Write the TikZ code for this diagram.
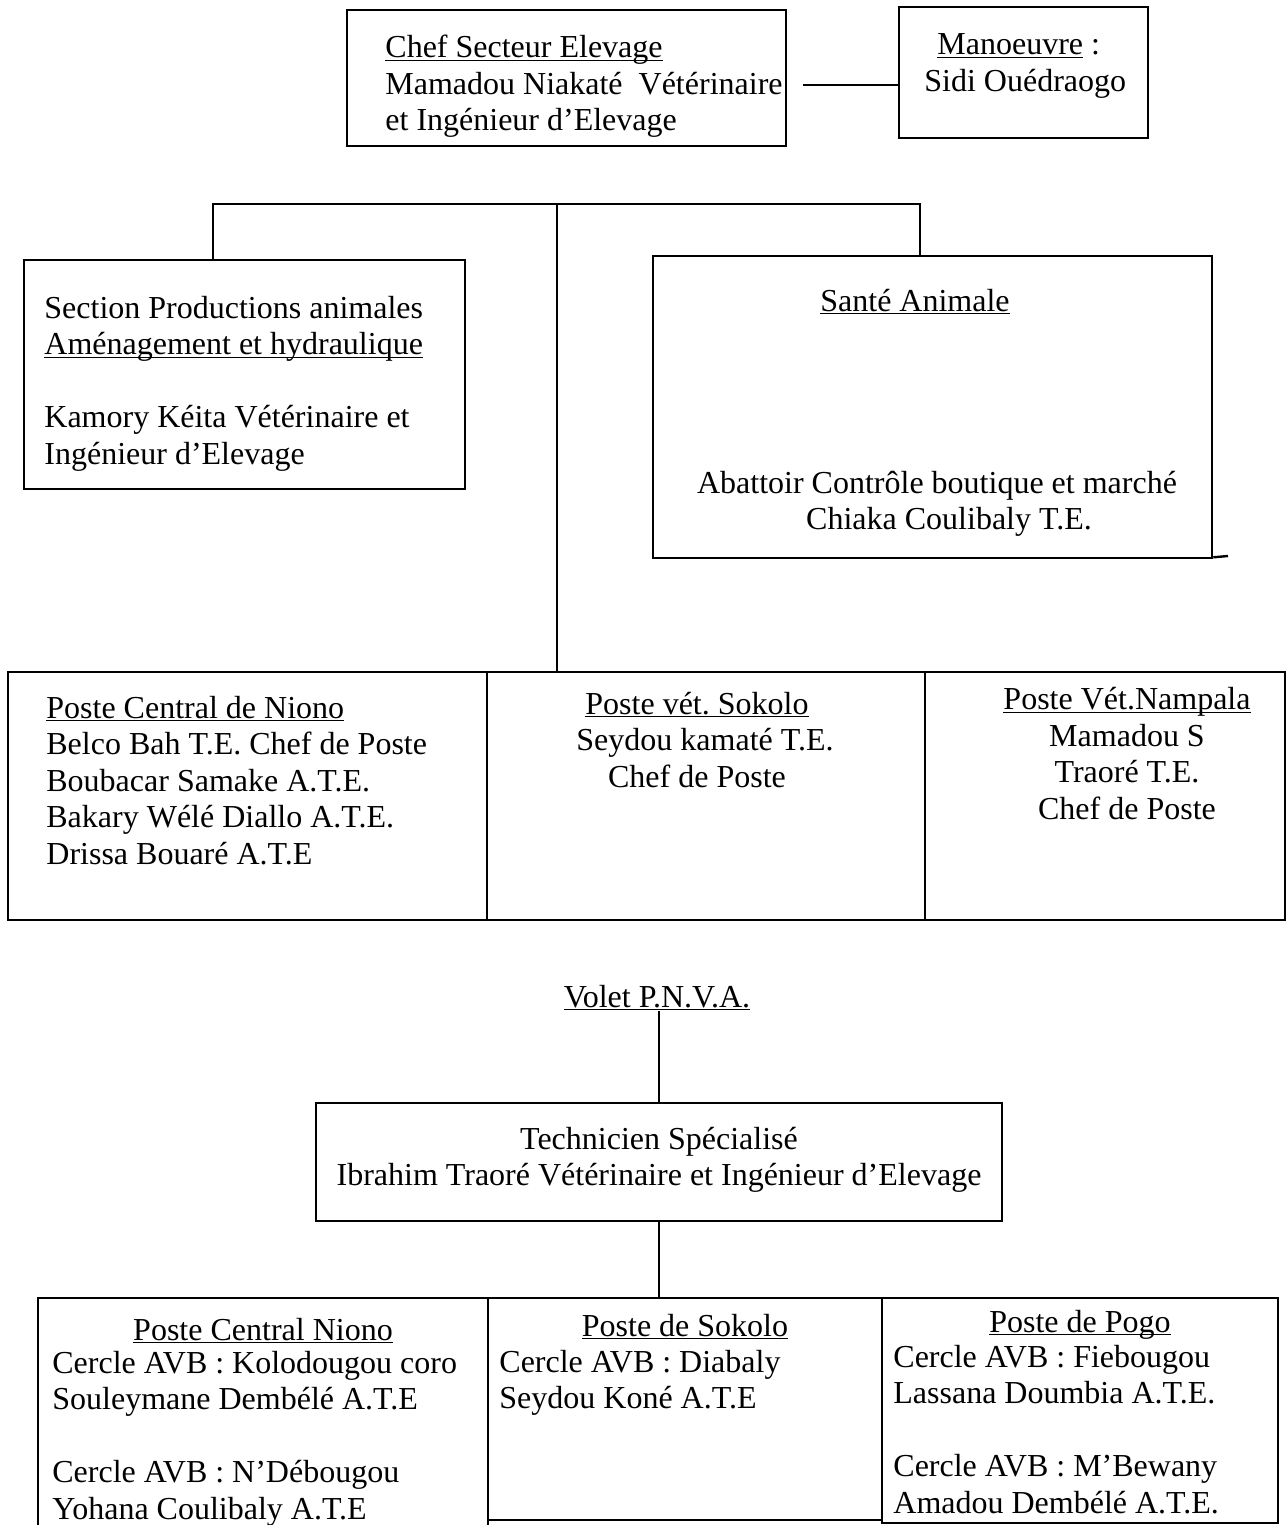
\documentclass[tikz,border=0pt]{standalone}
\usepackage{fontspec}
\setmainfont{Liberation Serif}
\newcommand{\ulin}[1]{\underline{\smash{#1}}\vphantom{#1}}
\begin{document}
\begin{tikzpicture}[x=0.5pt,y=-0.5pt,
  box/.style={draw, line width=1.3pt, rectangle, inner sep=0pt},
  link/.style={line width=1.2pt},
  txt/.style={inner sep=0pt, font=\fontsize{16}{18.25}\selectfont},
  ltxt/.style={txt, anchor=base west, align=left},
  ctxt/.style={txt, anchor=base, align=center}]
\useasboundingbox[fill=white] (0,0) rectangle (1288,1525);

% boxes
\node[box, minimum width=219.5pt, minimum height=68pt] (chef) at (566.5,78) {};
\node[box, minimum width=124.5pt, minimum height=65.5pt] (man) at (1023.5,72.5) {};
\node[box, minimum width=220.5pt, minimum height=114.5pt] (sec) at (244.5,374.5) {};
\node[box, minimum width=279.5pt, minimum height=151pt] (sante) at (932.5,407) {};
\node[box, minimum width=239.5pt, minimum height=124pt] (p1) at (247.5,796) {};
\node[box, minimum width=219pt, minimum height=124pt] (p2) at (706,796) {};
\node[box, minimum width=180pt, minimum height=124pt] (p3) at (1105,796) {};
\node[box, minimum width=343pt, minimum height=59pt] (tech) at (659,1162) {};
\node[box, minimum width=225pt, minimum height=117pt] (b1) at (263,1415) {};
\node[box, minimum width=197pt, minimum height=111pt] (b2) at (685,1409) {};
\node[box, minimum width=198pt, minimum height=112.5pt] (b3) at (1080,1410.5) {};

% texts (anchor = baseline of the last line)
\node[ltxt] (tchef) at (385,131) {\ulin{Chef Secteur Elevage}\\Mamadou Niakaté\ \ Vétérinaire\\et Ingénieur d’Elevage};
\node[ltxt] (tman) at (924,91) {\hspace*{6.5pt}\ulin{Manoeuvre} :\\Sidi Ouédraogo};
\node[ltxt] (tsec) at (44,464) {Section Productions animales\\\ulin{Aménagement et hydraulique}\\[18.25pt]Kamory Kéita Vétérinaire et\\Ingénieur d’Elevage};
\node[ctxt] (tsante1) at (915,311) {\ulin{Santé Animale}};
\node[ctxt] (tsante2) at (937,529.5) {Abattoir Contrôle boutique et marché\\\hspace*{12pt}Chiaka Coulibaly T.E.};
\node[ltxt] (tp1) at (46,864) {\ulin{Poste Central de Niono}\\Belco Bah T.E. Chef de Poste\\Boubacar Samake A.T.E.\\Bakary Wélé Diallo A.T.E.\\Drissa Bouaré A.T.E};
\node[ctxt] (tp2) at (697,787) {\ulin{Poste vét.\ Sokolo}\\\hspace*{8pt}Seydou kamaté T.E.\\Chef de Poste};
\node[ctxt] (tp3) at (1127,819) {\ulin{Poste Vét.Nampala}\\Mamadou S\\Traoré T.E.\\Chef de Poste};
\node[ctxt] (volet) at (657,1007) {\ulin{Volet P.N.V.A.}};
\node[ctxt] (ttech) at (659,1185.5) {Technicien Spécialisé\\Ibrahim Traoré Vétérinaire et Ingénieur d’Elevage};
\node[ctxt] (tb1h) at (263,1340) {\ulin{Poste Central Niono}};
\node[ltxt] (tb1) at (52,1519) {Cercle AVB : Kolodougou coro\\Souleymane Dembélé A.T.E\\[18.25pt]Cercle AVB : N’Débougou\\Yohana Coulibaly A.T.E};
\node[ctxt] (tb2h) at (685,1336) {\ulin{Poste de Sokolo}};
\node[ltxt] (tb2) at (499,1408.5) {Cercle AVB : Diabaly\\Seydou Koné A.T.E};
\node[ctxt] (tb3h) at (1080,1332) {\ulin{Poste de Pogo}};
\node[ltxt] (tb3) at (893,1513) {Cercle AVB : Fiebougou\\Lassana Doumbia A.T.E.\\[18.25pt]Cercle AVB : M’Bewany\\Amadou Dembélé A.T.E.};

% connectors
\coordinate (c1) at (803,85);
\draw[link] (c1) -- (c1 -| man.west);
\coordinate (j1) at (213,204);
\coordinate (j2) at (557,204);
\coordinate (j3) at (920,204);
\draw[link] (j1 |- sec.north) -- (j1) -- (j3) -- (j3 |- sante.north);
\draw[link] (j2) -- (j2 |- p2.north);
\coordinate (se) at (1228,556);
\draw[link] (sante.south east) ++(0,-2) -- (se);
\draw[link] (tech.north) -- (tech.north |- volet.south);
\draw[link] (tech.south) -- (tech.south |- b1.north);
\end{tikzpicture}
\end{document}
